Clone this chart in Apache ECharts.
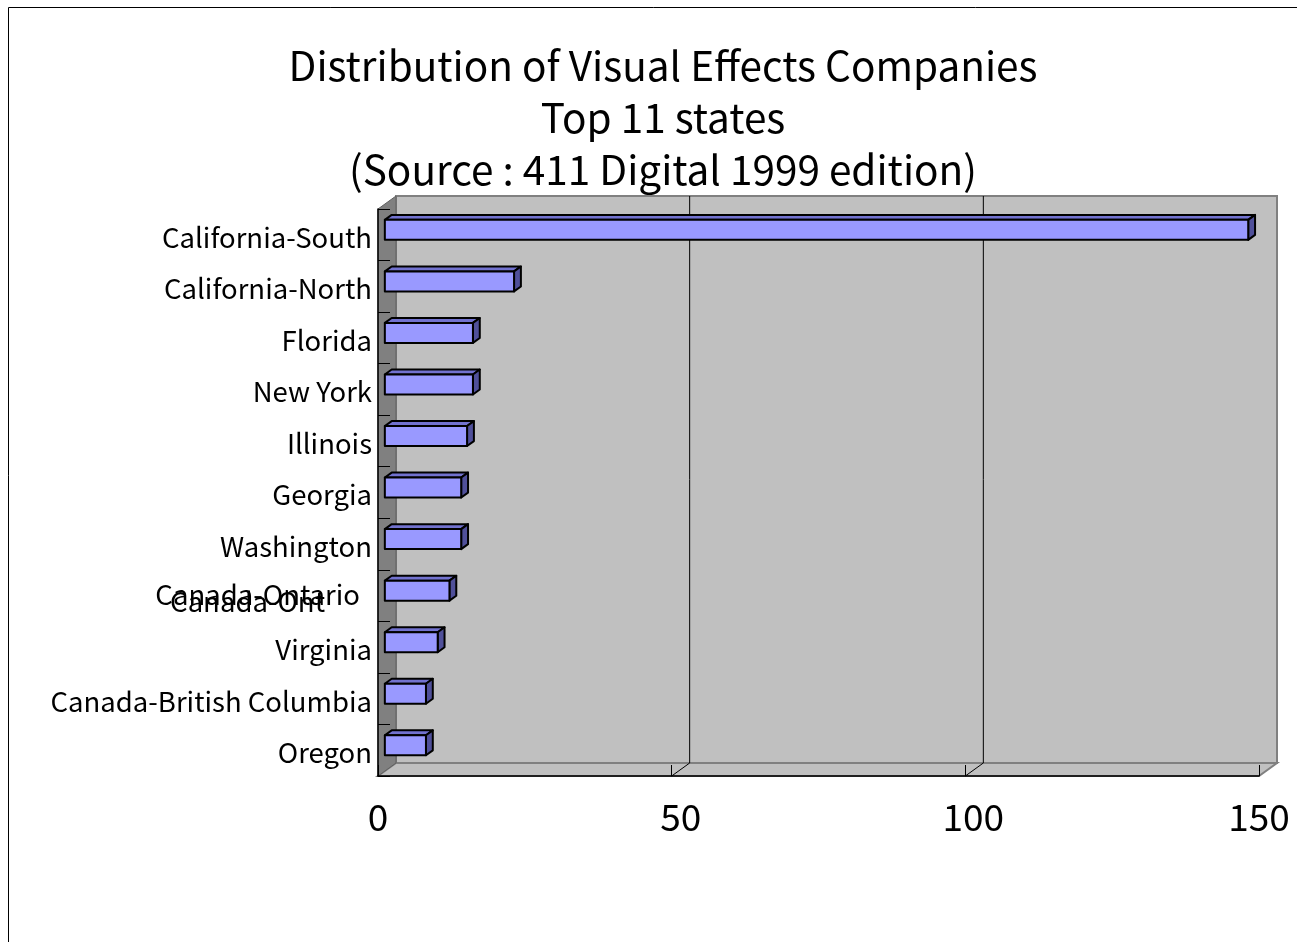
<!DOCTYPE html>
<html>
<head>
<meta charset="utf-8">
<script src="https://cdn.jsdelivr.net/npm/echarts@6/dist/echarts.min.js"></script>
<style>
  html, body { margin: 0; padding: 0; background: #fff; }
  #chart { width: 1297px; height: 942px; }
</style>
</head>
<body>
<div id="chart"></div>
<script>
const titleLines = ['Distribution of Visual Effects Companies', 'Top 11 states', '(Source : 411 Digital 1999 edition)'];
const categories = ['California-South', 'California-North', 'Florida', 'New York', 'Illinois', 'Georgia', 'Washington', 'Canada-Ontario', 'Virginia', 'Canada-British Columbia', 'Oregon'];
const companies = [147, 22, 15, 15, 14, 13, 13, 11, 9, 7, 7];
const xTicks = [0, 50, 100, 150];
const overlapLabel = 'Canada-Ont';

const FONT = '"Noto Sans CJK JP", "Noto Sans", sans-serif';
const DX = 18, DY = 13;          // depth of the 3D box
const F1 = 0.38, F2 = 0.76;      // bar depth (front / back fraction)
const BAR_H = 20;
const LABEL_SHIFT = { 50: 18, 100: 16 };

const chart = echarts.init(document.getElementById('chart'), null, { renderer: 'canvas' });

function wallsRender(params, api) {
  const cs = params.coordSys;
  const x = cs.x, y = cs.y, w = cs.width, h = cs.height;
  const children = [];
  children.push({ type: 'rect', shape: { x: x + DX, y: y - DY, width: w, height: h },
    style: { fill: '#c0c0c0', stroke: '#808080', lineWidth: 2 } });
  children.push({ type: 'polygon', shape: { points: [[x, y + h], [x + DX, y + h - DY], [x + w + DX, y + h - DY], [x + w, y + h]] },
    style: { fill: '#c0c0c0', stroke: '#808080', lineWidth: 2 } });
  children.push({ type: 'polygon', shape: { points: [[x, y], [x + DX, y - DY], [x + DX, y + h - DY], [x, y + h]] },
    style: { fill: '#808080', stroke: '#606060', lineWidth: 1 } });
  xTicks.forEach(function (v) {
    if (v === xTicks[0] || v === xTicks[xTicks.length - 1]) return;
    const px = api.coord([v, 0])[0];
    children.push({ type: 'line', shape: { x1: px + DX, y1: y - DY, x2: px + DX, y2: y + h - DY },
      style: { stroke: '#000', lineWidth: 1 } });
    children.push({ type: 'line', shape: { x1: px, y1: y + h, x2: px + DX, y2: y + h - DY },
      style: { stroke: '#000', lineWidth: 1 } });
  });
  return { type: 'group', children: children };
}

function barRender(params, api) {
  const v = api.value(0), idx = api.value(1);
  const p0 = api.coord([0, idx]);
  const p1 = api.coord([v, idx]);
  const dx1 = DX * F1, dy1 = DY * F1, dx2 = DX * F2, dy2 = DY * F2;
  const x0 = p0[0] + dx1, x1 = p1[0] + dx1;
  const yt = p0[1] - BAR_H / 2 - dy1, yb = p0[1] + BAR_H / 2 - dy1;
  const ddx = dx2 - dx1, ddy = dy2 - dy1;
  const st = { stroke: '#000', lineWidth: 2, lineJoin: 'round' };
  return {
    type: 'group',
    children: [
      { type: 'polygon', shape: { points: [[x0, yt], [x0 + ddx, yt - ddy], [x1 + ddx, yt - ddy], [x1, yt]] },
        style: Object.assign({ fill: '#7272cf' }, st) },
      { type: 'polygon', shape: { points: [[x1, yt], [x1 + ddx, yt - ddy], [x1 + ddx, yb - ddy], [x1, yb]] },
        style: Object.assign({ fill: '#50509a' }, st) },
      { type: 'rect', shape: { x: x0, y: yt, width: x1 - x0, height: BAR_H },
        style: Object.assign({ fill: '#9999ff' }, st) }
    ]
  };
}

const xRich = {};
Object.keys(LABEL_SHIFT).forEach(function (k) {
  xRich['s' + k] = { fontSize: 37, color: '#000', fontFamily: FONT, padding: [0, 0, 0, LABEL_SHIFT[k]] };
});

const option = {
  animation: false,
  backgroundColor: '#fff',
  grid: { left: 378, top: 209, width: 881, height: 567, containLabel: false },
  xAxis: {
    type: 'value', min: 0, max: 150, interval: 50, z: 10,
    axisLine: { show: true, lineStyle: { color: '#000', width: 1.5 } },
    axisTick: { show: true, inside: true, length: 11, lineStyle: { color: '#000', width: 1 } },
    axisLabel: {
      fontSize: 37, color: '#000', fontFamily: FONT, margin: 22,
      formatter: function (val) { return LABEL_SHIFT[val] ? '{s' + val + '|' + val + '}' : String(val); },
      rich: xRich
    },
    splitLine: { show: false }
  },
  yAxis: {
    type: 'category', data: categories, inverse: true, z: 10,
    axisLine: { show: true, lineStyle: { color: '#000', width: 1.5 } },
    axisTick: { show: true, inside: true, length: 12, lineStyle: { color: '#000', width: 1 } },
    axisLabel: {
      fontSize: 27.5, color: '#000', fontFamily: FONT, margin: 6, padding: [5, 0, 0, 0],
      formatter: function (val) {
        if (val === 'Canada-Ontario') return '{a|' + val + '}\n{b|' + overlapLabel + '}';
        return val;
      },
      rich: {
        a: { fontSize: 27.5, fontFamily: FONT, color: '#000', lineHeight: 7, padding: [0, 12, 0, 0] },
        b: { fontSize: 27.5, fontFamily: FONT, color: '#000', lineHeight: 7, padding: [0, 47, 0, 0] }
      }
    },
    splitLine: { show: false }
  },
  graphic: [
    { type: 'rect', silent: true, z: 0, shape: { x: 8.5, y: 7.5, width: 1400, height: 1000 },
      style: { fill: 'none', stroke: '#000', lineWidth: 1 } },
    { type: 'text', silent: true, z: 100, style: { text: titleLines.join('\n'), x: 663, y: 118,
      textAlign: 'center', textVerticalAlign: 'middle', fontSize: 40.5, lineHeight: 52, fontFamily: FONT, fill: '#000' } }
  ],
  series: [
    { type: 'custom', name: 'walls', z: 1, silent: true, clip: false, renderItem: wallsRender, data: [[0, 0]] },
    { type: 'custom', name: 'Companies', z: 3, silent: true, clip: false, renderItem: barRender,
      encode: { x: 0, y: 1 },
      data: companies.map(function (v, i) { return [v, i]; }) }
  ]
};
chart.setOption(option);
</script>
</body>
</html>
